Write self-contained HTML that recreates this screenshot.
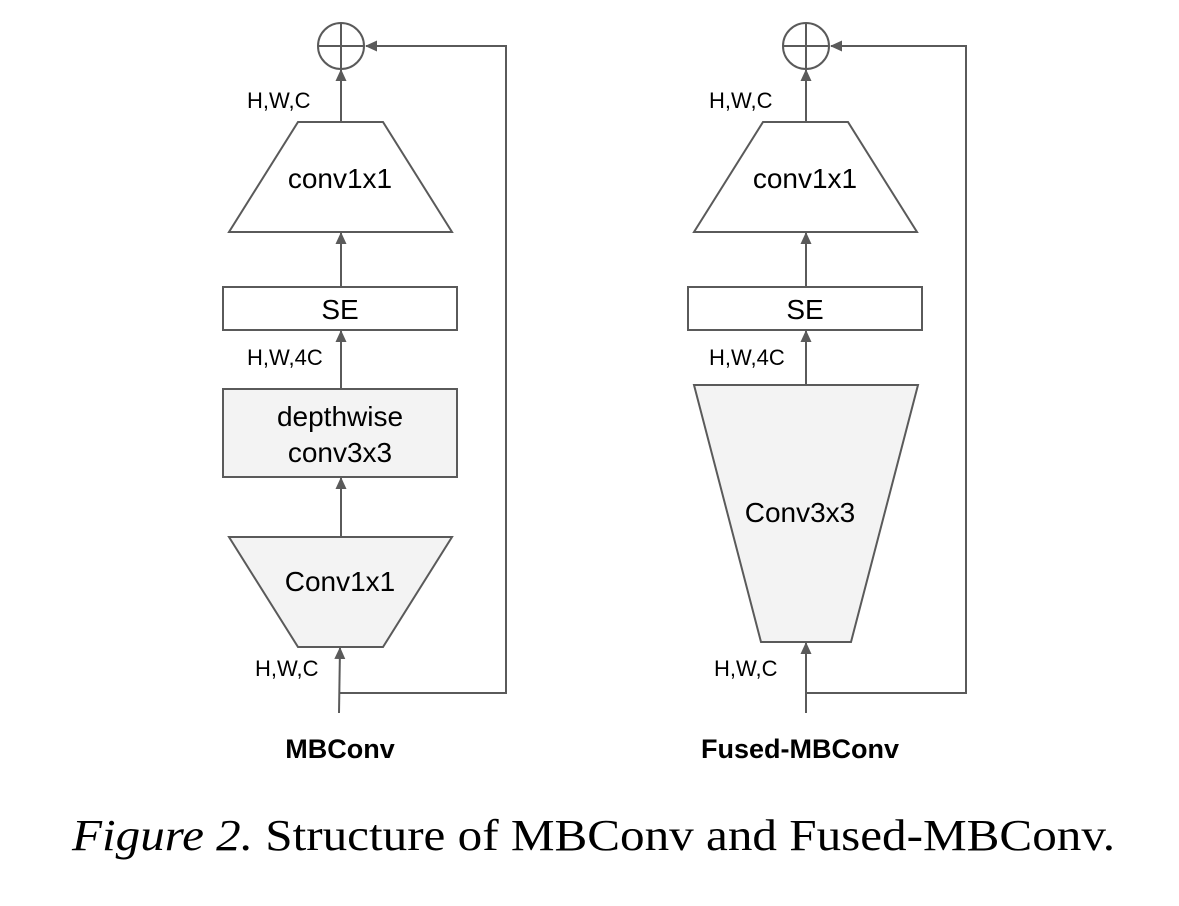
<!DOCTYPE html>
<html><head><style>
body{margin:0;background:#fff;}
svg{display:block;}
</style></head><body>
<svg width="1179" height="906" viewBox="0 0 1179 906" xmlns="http://www.w3.org/2000/svg">
<defs>
<marker id="a" markerWidth="12" markerHeight="12" refX="11" refY="6" orient="auto" markerUnits="userSpaceOnUse">
<path d="M0,0.5 L12,6 L0,11.5 z" fill="#5a5a5a"/>
</marker>
</defs>
<g stroke="#5a5a5a" stroke-width="2" fill="none" font-family="Liberation Sans, sans-serif">
<!-- LEFT -->
<circle cx="341" cy="46" r="23" fill="#fff"/>
<line x1="318" y1="46" x2="364" y2="46"/><line x1="341" y1="23" x2="341" y2="69"/>
<polyline points="339,693 506,693 506,46 366,46" marker-end="url(#a)"/>
<line x1="341" y1="122" x2="341" y2="70" marker-end="url(#a)"/>
<polygon points="298,122 383,122 452,232 229,232" fill="#fff"/>
<line x1="341" y1="287" x2="341" y2="233" marker-end="url(#a)"/>
<rect x="223" y="287" width="234" height="43" fill="#fff"/>
<line x1="341" y1="389" x2="341" y2="331" marker-end="url(#a)"/>
<rect x="223" y="389" width="234" height="88" fill="#f3f3f3"/>
<line x1="341" y1="537" x2="341" y2="478" marker-end="url(#a)"/>
<polygon points="229,537 452,537 383,647 298,647" fill="#f3f3f3"/>
<line x1="339" y1="713" x2="340" y2="648" marker-end="url(#a)"/>
<!-- RIGHT -->
<circle cx="806" cy="46" r="23" fill="#fff"/>
<line x1="783" y1="46" x2="829" y2="46"/><line x1="806" y1="23" x2="806" y2="69"/>
<polyline points="806,693 966,693 966,46 831,46" marker-end="url(#a)"/>
<line x1="806" y1="122" x2="806" y2="70" marker-end="url(#a)"/>
<polygon points="763,122 848,122 917,232 694,232" fill="#fff"/>
<line x1="806" y1="287" x2="806" y2="233" marker-end="url(#a)"/>
<rect x="688" y="287" width="234" height="43" fill="#fff"/>
<line x1="806" y1="385" x2="806" y2="331" marker-end="url(#a)"/>
<polygon points="694,385 918,385 851,642 761,642" fill="#f3f3f3"/>
<line x1="806" y1="713" x2="806" y2="643" marker-end="url(#a)"/>
</g>
<g font-family="Liberation Sans, sans-serif" fill="#000" stroke="none">
<text x="340" y="188" font-size="28" text-anchor="middle">conv1x1</text>
<text x="340" y="319" font-size="28" text-anchor="middle">SE</text>
<text x="340" y="426" font-size="28" text-anchor="middle">depthwise</text>
<text x="340" y="462" font-size="28" text-anchor="middle">conv3x3</text>
<text x="340" y="591" font-size="28" text-anchor="middle">Conv1x1</text>
<text x="247" y="108" font-size="22">H,W,C</text>
<text x="247" y="365" font-size="22">H,W,4C</text>
<text x="255" y="676" font-size="22">H,W,C</text>
<text x="340" y="758" font-size="27" font-weight="bold" text-anchor="middle">MBConv</text>

<text x="805" y="188" font-size="28" text-anchor="middle">conv1x1</text>
<text x="805" y="319" font-size="28" text-anchor="middle">SE</text>
<text x="800" y="522" font-size="28" text-anchor="middle">Conv3x3</text>
<text x="709" y="108" font-size="22">H,W,C</text>
<text x="709" y="365" font-size="22">H,W,4C</text>
<text x="714" y="676" font-size="22">H,W,C</text>
<text x="800" y="758" font-size="27" font-weight="bold" text-anchor="middle">Fused-MBConv</text>
</g>
<text x="72" y="850" font-family="Liberation Serif, serif" font-size="44" textLength="1043" lengthAdjust="spacingAndGlyphs"><tspan font-style="italic">Figure 2.</tspan> Structure of MBConv and Fused-MBConv.</text>
</svg>
</body></html>
